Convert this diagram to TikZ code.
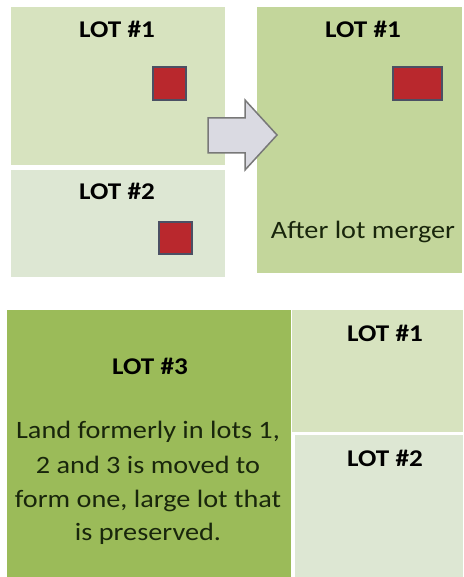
\documentclass[tikz,border=0pt]{standalone}
\usepackage{fontspec}
\setmainfont{Carlito}
\newfontfamily\lotfont[FakeStretch=1.13]{Carlito}
\definecolor{lotA}{RGB}{215,227,191}
\definecolor{lotB}{RGB}{221,231,211}
\definecolor{lotM}{RGB}{195,214,155}
\definecolor{lotC}{RGB}{155,187,89}
\definecolor{bldfill}{RGB}{185,40,45}
\definecolor{bldline}{RGB}{75,80,100}
\definecolor{arrfill}{RGB}{218,218,226}
\definecolor{arrline}{RGB}{120,120,120}
\definecolor{txtdark}{RGB}{25,38,12}
\begin{document}
\begin{tikzpicture}[x=1pt,y=-1pt,
  lotbox/.style={rectangle, draw=none, inner sep=0pt, anchor=north west},
  bld/.style={rectangle, fill=bldfill, draw=bldline, line width=2pt, inner sep=0pt, anchor=north west},
  lotlabel/.style={font=\lotfont\fontsize{24}{28}\selectfont\bfseries, text=black, inner sep=0pt, anchor=base},
  bodytext/.style={font=\lotfont\fontsize{25}{34}\selectfont, text=txtdark, inner sep=0pt, anchor=base}
]
\useasboundingbox (0,0) rectangle (463,577);
\fill[white] (0,0) rectangle (463,577);
% top left lots
\node[lotbox, fill=lotA, minimum width=214pt, minimum height=158pt] (tlot1) at (11,7) {};
\node[lotbox, fill=lotB, minimum width=214pt, minimum height=107pt] (tlot2) at (11,170) {};
\node[lotlabel] (tl1) at (117,38) {LOT \#1};
\node[lotlabel] (tl2) at (117,200) {LOT \#2};
\node[bld, minimum width=33pt, minimum height=33pt] (b1) at (152,66) {};
\node[bld, minimum width=33pt, minimum height=32pt] (b2) at (158,221) {};
% merged lot
\node[lotbox, fill=lotM, minimum width=205pt, minimum height=266pt] (mlot) at (257,7) {};
\node[lotlabel] (ml1) at (363,38) {LOT \#1};
\node[bld, minimum width=49pt, minimum height=33pt] (b3) at (392,66) {};
\node[bodytext] (after) at (363,238) {After lot merger};
% arrow
\draw[fill=arrfill, draw=arrline, line width=1.5pt, line join=miter]
  (208,118) -- (245,118) -- (245,100) -- (277,135) -- (245,170) -- (245,153) -- (208,153) -- cycle;
% bottom
\node[lotbox, fill=lotC, minimum width=284pt, minimum height=267pt] (blot3) at (7,310) {};
\node[lotbox, fill=lotA, minimum width=171pt, minimum height=122pt] (blot1) at (292,310) {};
\node[lotbox, fill=lotB, minimum width=168pt, minimum height=142pt] (blot2) at (295,435) {};
\node[lotlabel] (bl3) at (150,374) {LOT \#3};
\node[lotlabel] (bl1) at (385,341) {LOT \#1};
\node[lotlabel] (bl2) at (385,466) {LOT \#2};
\node[bodytext] (para1) at (148,438) {Land formerly in lots 1,};
\node[bodytext] (para2) at (148,473) {2 and 3 is moved to};
\node[bodytext] (para3) at (148,507) {form one, large lot that};
\node[bodytext] (para4) at (148,540) {is preserved.};
\end{tikzpicture}
\end{document}
